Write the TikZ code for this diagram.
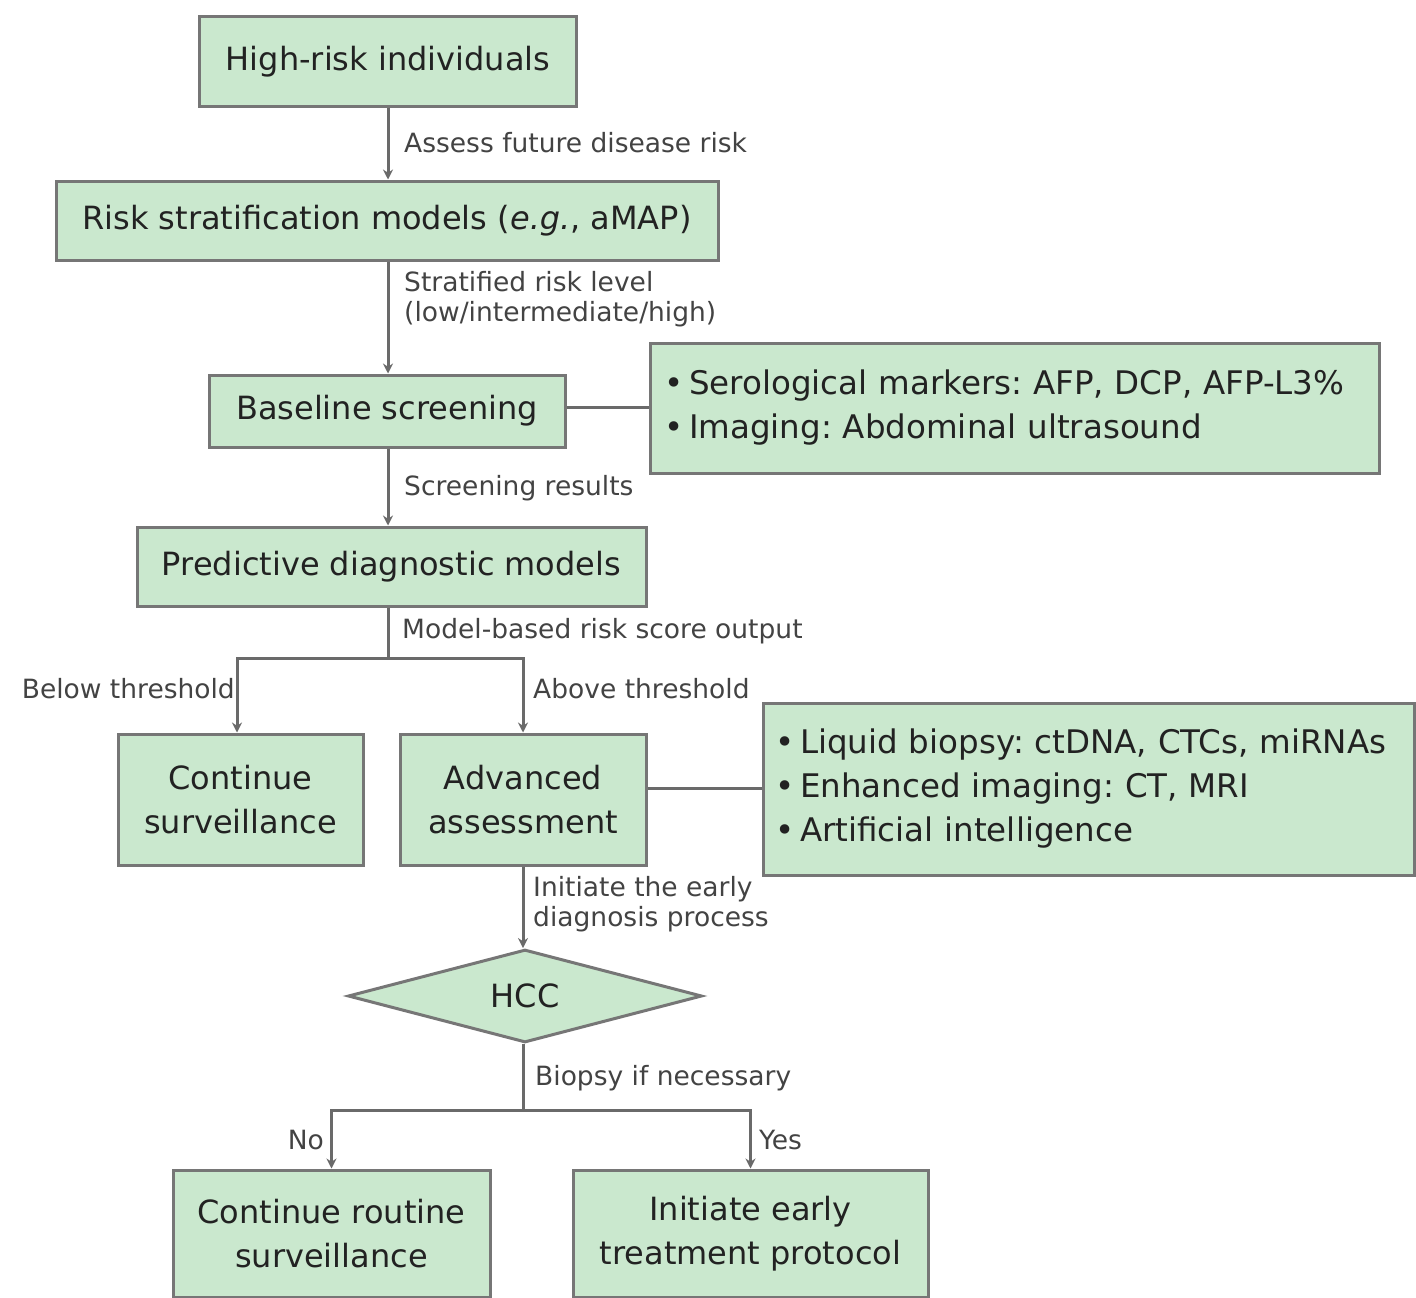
\documentclass[tikz,border=0pt]{standalone}
\usepackage{fontspec}
\setmainfont{DejaVu Sans}
\usetikzlibrary{shapes.geometric,arrows.meta}
\definecolor{boxfill}{HTML}{CAE8CE}
\definecolor{boxline}{HTML}{767676}
\definecolor{conn}{HTML}{6A6A6A}
\definecolor{txt}{HTML}{222222}
\frenchspacing
\tikzset{
  box/.style={draw=boxline, fill=boxfill, line width=3pt, inner sep=0pt, align=center,
    text=txt, font=\fontsize{32}{44}\selectfont},
  sidebox/.style={box, align=left, font=\fontsize{32.5}{44}\selectfont},
  decision/.style={diamond, draw=boxline, fill=boxfill, line width=3pt, inner sep=0pt,
    text=txt, font=\fontsize{32}{44}\selectfont},
  lbl/.style={text=txt!85!white, font=\fontsize{26.5}{30}\selectfont, inner sep=0pt, align=left},
  conn/.style={draw=conn, line width=3pt},
  arr/.style={conn, -{Stealth[length=10pt,width=10pt]}}
}
\begin{document}
\begin{tikzpicture}[x=1pt,y=-1pt]
\useasboundingbox (0,0) rectangle (1416,1298);
\node[box, minimum width=377, minimum height=89] (hr) at (388,61.5) {High-risk individuals};
\node[box, minimum width=662, minimum height=79] (rs) at (387,220.5) {Risk stratification models (\textit{e.g.}, aMAP)};
\node[box, minimum width=356, minimum height=72] (bs) at (387,411) {Baseline screening};
\node[sidebox, minimum width=729, minimum height=130, text width=700] (sb1) at (1014.5,408)
  {•\,Serological markers: AFP, DCP, AFP-L3\%\\•\,Imaging: Abdominal ultrasound};
\node[box, minimum width=509, minimum height=79] (pd) at (391.5,566.5) {Predictive diagnostic models};
\node[box, minimum width=245, minimum height=131] (cs) at (240.5,799.5) {Continue\\surveillance};
\node[box, minimum width=246, minimum height=131] (aa) at (523,799.5) {Advanced\\assessment};
\node[sidebox, minimum width=651, minimum height=172, text width=626] (sb2) at (1088.5,789)
  {•\,Liquid biopsy: ctDNA, CTCs, miRNAs\\•\,Enhanced imaging: CT, MRI\\•\,Artificial intelligence};
\node[decision, minimum width=354, minimum height=92] (hcc) at (525,996) {HCC};
\node[box, minimum width=317, minimum height=127] (cr) at (331.5,1233.5) {Continue routine\\surveillance};
\node[box, minimum width=355, minimum height=127] (ie) at (750.5,1233.5) {Initiate early\\treatment protocol};

\coordinate (j1) at (388,658);
\coordinate (j2) at (523,1110);

\draw[arr] (hr.south -| 388,0) -- (rs.north -| 388,0);
\draw[arr] (rs.south -| 388,0) -- (bs.north -| 388,0);
\draw[arr] (bs.south -| 388,0) -- (pd.north -| 388,0);
\draw[conn] (bs.east |- 0,407) -- (sb1.west |- 0,407);
\draw[conn] (pd.south -| j1) -- (j1);
\draw[arr] (j1) -| (cs.north -| 237,0);
\draw[arr] (j1) -| (aa.north);
\draw[conn] (aa.east |- 0,788) -- (sb2.west |- 0,788);
\draw[arr] (aa.south) -- (hcc.north -| aa.south);
\draw[conn] (hcc.south -| j2) -- (j2);
\draw[arr] (j2) -| (cr.north);
\draw[arr] (j2) -| (ie.north);

\node[lbl, anchor=west] (l1) at (404,143) {Assess future disease risk};
\node[lbl, anchor=west] (l2) at (404,299) {Stratified risk level\\(low/intermediate/high)};
\node[lbl, anchor=west] (l3) at (404,488) {Screening results};
\node[lbl, anchor=west] (l4) at (402,631) {Model-based risk score output};
\node[lbl, anchor=east] (l5) at (235,689) {Below threshold};
\node[lbl, anchor=west] (l6) at (533,689) {Above threshold};
\node[lbl, anchor=west] (l7) at (533,904) {Initiate the early\\diagnosis process};
\node[lbl, anchor=west] (l8) at (535,1078) {Biopsy if necessary};
\node[lbl, anchor=east] (l9) at (324,1140) {No};
\node[lbl, anchor=west] (l10) at (759,1140) {Yes};
\end{tikzpicture}
\end{document}
